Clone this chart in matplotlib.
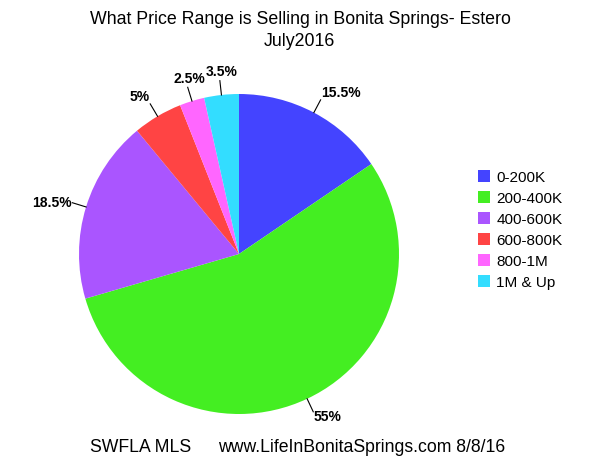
import matplotlib
matplotlib.use("Agg")
import matplotlib.pyplot as plt
import numpy as np

plt.rcParams['font.family'] = ['Liberation Sans', 'DejaVu Sans']

categories = ["0-200K", "200-400K", "400-600K", "600-800K", "800-1M", "1M & Up"]
values = [15.5, 55, 18.5, 5, 2.5, 3.5]
labels = ["15.5%", "55%", "18.5%", "5%", "2.5%", "3.5%"]
colors = ["#4444ff", "#44ee22", "#aa55ff", "#ff4444", "#ff66ff", "#33ddff"]

W, H = 600, 463
fig = plt.figure(figsize=(6, 4.63), dpi=100)
ax = fig.add_axes([(239 - 160) / W, (H - 414) / H, 320 / W, 320 / H])
wedges, _ = ax.pie(values, colors=colors, startangle=90, counterclock=False,
                   radius=1.0, wedgeprops=dict(linewidth=0))
ax.set_xlim(-1, 1)
ax.set_ylim(-1, 1)
ax.set_aspect('equal')
ax.axis('off')

for w, lab in zip(wedges, labels):
    ang = np.deg2rad((w.theta1 + w.theta2) / 2)
    c, s = np.cos(ang), np.sin(ang)
    r1 = 1.09
    ax.plot([1.0 * c, r1 * c], [1.0 * s, r1 * s], color='black', lw=0.8, clip_on=False)
    if abs(c) < 0.4:
        ha, va, dx, dy = 'center', 'bottom', 0.01, 0.01
    else:
        ha = 'left' if c > 0 else 'right'
        va = 'bottom' if s > 0.5 else 'center'
        dx = 0.005 if c > 0 else -0.005
        dy = -0.035 if s < 0 else 0.0
    ax.text(r1 * c + dx, r1 * s + dy, lab, ha=ha, va=va,
            fontsize=10, fontweight='bold', clip_on=False)

fig.text(300 / W, 1 - 20 / H, "What Price Range is Selling in Bonita Springs- Estero",
         ha='center', va='center', fontsize=12.8)
fig.text(299 / W, 1 - 41 / H, "July2016", ha='center', va='center', fontsize=12.8)
fig.text(90 / W, 1 - 448 / H, "SWFLA MLS", ha='left', va='center', fontsize=12.7)
fig.text(218 / W, 1 - 448 / H, "www.LifeInBonitaSprings.com 8/8/16",
         ha='left', va='center', fontsize=12.7)

fig.legend(wedges, categories, loc='center left', bbox_to_anchor=(478 / W, 1 - 230 / H),
           frameon=False, fontsize=11, handlelength=0.8, handleheight=0.8,
           handletextpad=0.4, labelspacing=0.45, borderpad=0, borderaxespad=0)

fig.savefig("out.png", dpi=100)
